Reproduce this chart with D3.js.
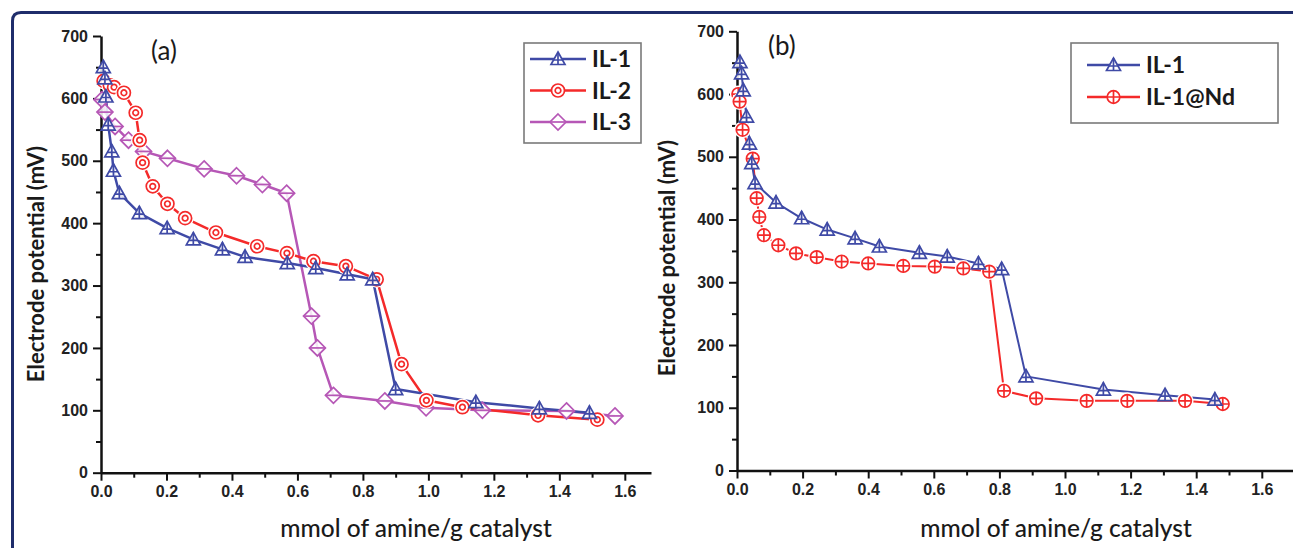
<!DOCTYPE html>
<html lang="en">
<head>
    <meta charset="UTF-8">
    <title>titration</title>
    <script src="https://cdnjs.cloudflare.com/ajax/libs/d3/7.8.5/d3.min.js"></script>
    <style>
        body { margin:0; background:#fff; }
        .tick text { font-family:"Liberation Sans", Arial, sans-serif; font-weight:bold; font-size:16px; fill:#222; }
        .domain, .tick line { stroke:#111; }
        .ttl { font-family:Lato, "Open Sans", sans-serif; fill:#1a1a1a; }
    </style>
</head>
<body>
<script>
    // ---- data ----
    const xTicks = [0, 0.2, 0.4, 0.6, 0.8, 1.0, 1.2, 1.4, 1.6];
    const yTicks = [0, 100, 200, 300, 400, 500, 600, 700];

    // panel (a)
    const il1A = [[0.007,650],[0.012,632],[0.015,603],[0.022,558],[0.033,515],[0.038,484],[0.056,448],
        [0.117,416],[0.202,392],[0.282,374],[0.371,358],[0.44,346],[0.569,336],[0.656,328],[0.752,318],
        [0.83,310],[0.9,134],[1.145,113],[1.339,103],[1.492,96]];
    const il2A = [[0.008,628],[0.027,621],[0.04,618],[0.07,609],[0.106,577],[0.118,533],[0.127,497],
        [0.158,459],[0.203,431],[0.257,408],[0.351,385],[0.477,363],[0.568,352],[0.649,339],[0.748,331],
        [0.842,310],[0.918,174],[0.994,116],[1.104,105],[1.335,92],[1.516,85]];
    const il3A = [[0.003,598],[0.012,578],[0.043,555],[0.084,533],[0.13,515],[0.203,504],[0.315,487],
        [0.414,476],[0.493,462],[0.567,448],[0.643,251],[0.661,200],[0.71,124],[0.867,115],[0.993,104],
        [1.165,100],[1.422,99],[1.57,91]];

    // panel (b)
    const il1B = [[0.009,651],[0.014,633],[0.019,606],[0.029,564],[0.038,521],[0.045,490],[0.055,458],
        [0.119,427],[0.197,402],[0.275,384],[0.36,370],[0.434,357],[0.556,347],[0.641,341],[0.736,330],
        [0.807,321],[0.881,150],[1.117,129],[1.305,120],[1.457,113]];
    const il1NdB = [[0.004,600],[0.008,588],[0.017,543],[0.048,497],[0.06,434],[0.068,404],[0.082,375],
        [0.126,359],[0.18,346],[0.243,340],[0.319,333],[0.4,330],[0.507,326],[0.603,325],[0.69,322],
        [0.769,317],[0.814,127],[0.912,115],[1.066,111],[1.19,111],[1.366,111],[1.481,106]];

    const BLUE = "#3f4aa6", RED = "#f42a2a", MAG = "#b657b6";

    const svg = d3.select("body").append("svg")
        .attr("width", 1293).attr("height", 548);

    // navy frame round the figure
    svg.append("path")
        .attr("d", "M12.5,548 V21 Q12.5,12.5 21,12.5 H1293")
        .attr("fill", "none").attr("stroke", "#1f2d6b").attr("stroke-width", 3);

    // marker shapes, centred on 0,0
    const marker = {
        tri: g => {
            g.append("path").attr("d", "M0,-7 L7,5.5 L-7,5.5 Z");
            g.append("path").attr("d", "M0,-7 V5.5 M-4.5,1 H4.5");
        },
        target: g => {
            g.append("circle").attr("r", 6.5);
            g.append("circle").attr("r", 2.8);
        },
        diamond: g => {
            g.append("path").attr("d", "M0,-8 L8,0 L0,8 L-8,0 Z");
            g.append("path").attr("d", "M-8,0 H8");
        },
        cplus: g => {
            g.append("circle").attr("r", 6.3);
            g.append("path").attr("d", "M-6.3,0 H6.3 M0,-6.3 V6.3");
        }
    };

    function drawPanel(p) {
        const x = d3.scaleLinear().domain([0, p.xmax]).range([p.left, p.right]);
        const y = d3.scaleLinear().domain([0, 700]).range([p.bottom, p.top]);
        const g = svg.append("g");

        // minor ticks
        g.append("g").attr("transform", `translate(0,${p.bottom})`)
            .call(d3.axisBottom(x).tickValues(d3.range(0.1, p.xmax, 0.2)).tickSize(5).tickFormat("").tickSizeOuter(0))
            .call(a => a.select(".domain").remove())
            .selectAll("line").attr("stroke-width", 2);
        g.append("g").attr("transform", `translate(${p.left},0)`)
            .call(d3.axisLeft(y).tickValues(d3.range(50, 700, 100)).tickSize(5).tickFormat("").tickSizeOuter(0))
            .call(a => a.select(".domain").remove())
            .selectAll("line").attr("stroke-width", 2);

        // major axes
        const xa = g.append("g").attr("transform", `translate(0,${p.bottom})`)
            .call(d3.axisBottom(x).tickValues(xTicks).tickFormat(d3.format(".1f")).tickSize(8).tickPadding(5).tickSizeOuter(0));
        const ya = g.append("g").attr("transform", `translate(${p.left},0)`)
            .call(d3.axisLeft(y).tickValues(yTicks).tickSize(8).tickPadding(5).tickSizeOuter(0));
        [xa, ya].forEach(a => {
            a.select(".domain").attr("stroke-width", 2.5);
            a.selectAll(".tick line").attr("stroke-width", 2);
        });

        // series
        const line = d3.line().x(d => x(d[0])).y(d => y(d[1]));
        p.series.forEach(s => {
            g.append("path").datum(s.data)
                .attr("d", line).attr("fill", "none")
                .attr("stroke", s.color).attr("stroke-width", p.lw).attr("stroke-linejoin", "round");
        });
        p.series.forEach(s => {
            const m = g.append("g").selectAll("g").data(s.data).join("g")
                .attr("transform", d => `translate(${x(d[0])},${y(d[1])})`);
            if (s.gap) m.append("circle").attr("r", 8.5).attr("fill", "#fff");
            m.each(function () {
                const mg = d3.select(this).append("g")
                    .attr("fill", "none").attr("stroke", s.color).attr("stroke-width", 1.7);
                marker[s.shape](mg);
                mg.select(":first-child").attr("fill", "rgba(255,255,255,0.85)");
            });
        });

        // panel letter
        g.append("text").attr("class", "ttl")
            .attr("x", p.letterX).attr("y", p.top + 24)
            .attr("font-size", 26).text(p.letter);

        // axis titles
        g.append("text").attr("class", "ttl")
            .attr("transform", `translate(${p.yTitleX},${p.yTitleY}) rotate(-90)`)
            .attr("text-anchor", "middle").attr("dy", "0.35em")
            .attr("font-size", 22).attr("font-weight", 700)
            .text("Electrode  potential (mV)");
        g.append("text").attr("class", "ttl")
            .attr("x", p.xTitleX).attr("y", 537)
            .attr("text-anchor", "middle")
            .attr("font-size", 24.5).attr("font-weight", 500)
            .text("mmol of amine/g catalyst");

        // legend
        const lg = g.append("g");
        lg.append("rect")
            .attr("x", p.legend.x).attr("y", p.legend.y)
            .attr("width", p.legend.w).attr("height", p.legend.h)
            .attr("fill", "#fff").attr("stroke", "#7a7a7a").attr("stroke-width", 1.6);
        p.series.slice().sort((a, b) => a.order - b.order).forEach((s, i) => {
            const cy = p.legend.y + p.legend.row0 + i * p.legend.step;
            const x0 = p.legend.x + p.legend.lineX0, x1 = x0 + p.legend.lineW;
            lg.append("line").attr("x1", x0).attr("x2", x1).attr("y1", cy).attr("y2", cy)
                .attr("stroke", s.color).attr("stroke-width", 2.5);
            const mg = lg.append("g").attr("transform", `translate(${(x0 + x1) / 2},${cy})`)
                .attr("fill", "none").attr("stroke", s.color).attr("stroke-width", 1.7);
            marker[s.shape](mg);
            mg.select(":first-child").attr("fill", "#fff");
            lg.append("text").attr("class", "ttl")
                .attr("x", x1 + 6).attr("y", cy).attr("dy", "0.36em")
                .attr("font-size", 23).attr("font-weight", 700)
                .text(s.name);
        });
    }

    drawPanel({
        left: 101, right: 651, xmax: 1.68, top: 36, bottom: 472.7, lw: 2.5,
        letter: "(a)", letterX: 151, yTitleX: 36, yTitleY: 264, xTitleX: 416,
        legend: { x: 524, y: 43, w: 117, h: 100, row0: 16, step: 31.5, lineX0: 6, lineW: 56 },
        series: [
            { name: "IL-3", data: il3A, color: MAG, shape: "diamond", order: 3 },
            { name: "IL-2", data: il2A, color: RED, shape: "target", order: 2, gap: true },
            { name: "IL-1", data: il1A, color: BLUE, shape: "tri", order: 1 }
        ]
    });

    drawPanel({
        left: 737, right: 1294.6, xmax: 1.7, top: 31.3, bottom: 470.5, lw: 2,
        letter: "(b)", letterX: 768, yTitleX: 667, yTitleY: 258, xTitleX: 1056,
        legend: { x: 1071, y: 43, w: 207, h: 80, row0: 22, step: 32, lineX0: 16, lineW: 53 },
        series: [
            { name: "IL-1@Nd", data: il1NdB, color: RED, shape: "cplus", order: 2, gap: true },
            { name: "IL-1", data: il1B, color: BLUE, shape: "tri", order: 1 }
        ]
    });
</script>
</body>
</html>
